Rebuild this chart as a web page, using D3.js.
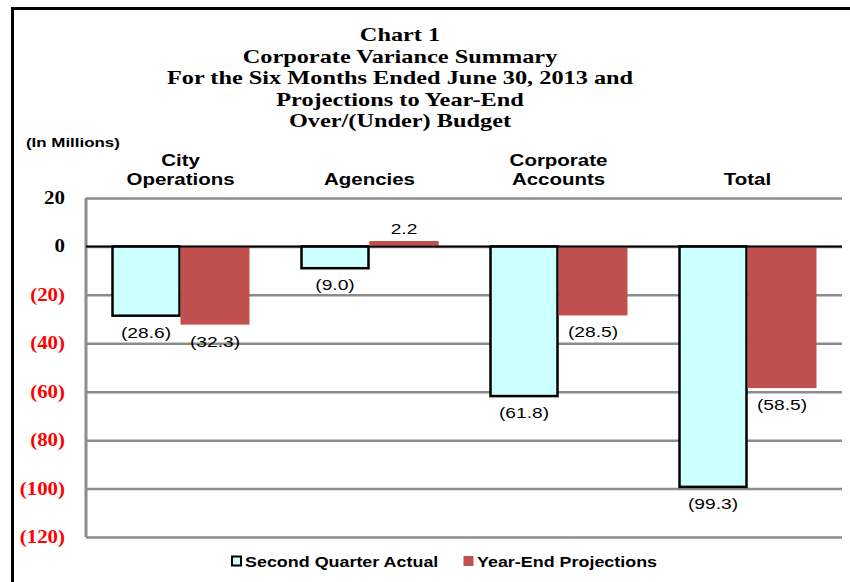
<!DOCTYPE html>
<html>
<head>
<meta charset="utf-8">
<script src="https://cdn.jsdelivr.net/npm/d3@7"></script>
<style>
  body { margin: 0; background: #fff; }
  svg { display: block; }
</style>
</head>
<body>
<div id="chart"></div>
<script>
// chart values
const categories = [["City", "Operations"], ["Agencies"], ["Corporate", "Accounts"], ["Total"]];
const seriesNames = ["Second Quarter Actual", "Year-End Projections"];
const secondQuarter = [-28.6, -9.0, -61.8, -99.3];
const yearEnd = [-32.3, 2.2, -28.5, -58.5];
const yTicks = [20, 0, -20, -40, -60, -80, -100, -120];
const titleLines = ["Chart 1", "Corporate Variance Summary", "For the Six Months Ended June 30, 2013 and",
  "Projections to Year-End", "Over/(Under) Budget"];

const W = 850, H = 582;
const margin = { top: 198, right: 8, bottom: 45, left: 86 };
const width = W - margin.left - margin.right;
const height = H - margin.top - margin.bottom;
const SANS = "Liberation Sans, Arial, sans-serif";
const SERIF = "Liberation Serif, Times New Roman, serif";
const stretch = 1.28; // the original text is drawn wide

const svg = d3.select("#chart").append("svg")
  .attr("width", W).attr("height", H);

// place text at (x,y) and widen it horizontally
const at = (x, y, sx) => `translate(${x},${y}) scale(${sx},1)`;

// outer frame
svg.append("line").attr("x1", 12).attr("x2", W).attr("y1", 8.5).attr("y2", 8.5)
  .attr("stroke", "#000").attr("stroke-width", 3);
svg.append("line").attr("x1", 12.5).attr("x2", 12.5).attr("y1", 7).attr("y2", H)
  .attr("stroke", "#000").attr("stroke-width", 3);

// title
svg.append("g").selectAll("text").data(titleLines).enter().append("text")
  .attr("text-anchor", "middle")
  .attr("font-family", SERIF)
  .attr("font-weight", "bold").attr("font-size", 19)
  .attr("transform", (d, i) => at(400, 41 + i * 21.5, stretch))
  .text(d => d);

svg.append("text")
  .attr("transform", at(26, 147, 1.3))
  .attr("font-family", SANS)
  .attr("font-weight", "bold").attr("font-size", 13)
  .text("(In Millions)");

const g = svg.append("g").attr("transform", `translate(${margin.left},${margin.top})`);

const x = d3.scaleBand().domain(d3.range(categories.length)).range([0, width]);
const x1 = d3.scaleBand().domain([0, 1]).range([0, 138]);
const y = d3.scaleLinear().domain([20, -120]).range([0, height]);

// gridlines
g.append("g")
  .attr("class", "grid")
  .call(d3.axisLeft(y).tickValues(yTicks).tickSize(-width).tickFormat(""))
  .call(s => s.select(".domain").remove())
  .call(s => s.selectAll("line").attr("stroke", "#8c8c8c").attr("stroke-width", 2.5));

g.append("line").attr("x1", 0).attr("x2", 0).attr("y1", 0).attr("y2", height)
  .attr("stroke", "#8c8c8c").attr("stroke-width", 3);

// tick labels
g.append("g").selectAll("text").data(yTicks).enter().append("text")
  .attr("transform", d => at(-21, y(d) + 6, 1.1))
  .attr("text-anchor", "end")
  .attr("font-family", SERIF)
  .attr("font-weight", "bold").attr("font-size", 19)
  .attr("fill", d => d < 0 ? "#ff0000" : "#000")
  .text(d => d < 0 ? `(${-d})` : d);

// category labels
const catLines = categories.flatMap((c, ci) => c.map((t, i) => ({ t, ci, row: c.length - 1 - i })));
g.append("g").selectAll("text").data(catLines).enter().append("text")
  .attr("transform", d => at(x(d.ci) + x.bandwidth() / 2, -13 - d.row * 19, stretch))
  .attr("text-anchor", "middle")
  .attr("font-family", SANS)
  .attr("font-weight", "bold").attr("font-size", 16)
  .text(d => d.t);

// bars
const rows = categories.map((c, i) => [
  { cat: i, s: 0, v: secondQuarter[i] },
  { cat: i, s: 1, v: yearEnd[i] }
]);
const bx = d => x(d.cat) + (x.bandwidth() - 138) / 2 + x1(d.s);

const barG = g.append("g").selectAll("g").data(rows).enter().append("g");
barG.selectAll("rect").data(d => d).enter().append("rect")
  .attr("x", d => bx(d) + (d.s === 0 ? 1 : 0))
  .attr("width", d => x1.bandwidth() - (d.s === 0 ? 2 : 0))
  .attr("y", d => y(Math.max(0, d.v)))
  .attr("height", d => Math.abs(y(d.v) - y(0)))
  .attr("fill", d => d.s === 0 ? "#ccffff" : "#c0504d")
  .attr("stroke", d => d.s === 0 ? "#000" : "none")
  .attr("stroke-width", 2.5);

// zero line
g.append("line").attr("x1", 0).attr("x2", width).attr("y1", y(0)).attr("y2", y(0))
  .attr("stroke", "#000").attr("stroke-width", 2);

// redraw positive red bars on top of zero line
g.selectAll(".pos").data(rows.flat().filter(d => d.v > 0)).enter().append("rect")
  .attr("x", bx).attr("width", x1.bandwidth())
  .attr("y", d => y(d.v)).attr("height", d => y(0) - y(d.v) - 1)
  .attr("fill", "#c0504d");

// value labels
g.append("g").selectAll("text").data(rows.flat()).enter().append("text")
  .attr("transform", d => at(bx(d) + x1.bandwidth() / 2, d.v < 0 ? y(d.v) + 22 : y(d.v) - 7, stretch))
  .attr("text-anchor", "middle")
  .attr("font-family", SANS)
  .attr("font-size", 15)
  .text(d => d.v < 0 ? `(${(-d.v).toFixed(1)})` : d.v.toFixed(1));

// legend
const legend = svg.append("g").attr("transform", "translate(231,556)");
const lg = legend.selectAll("g").data(seriesNames).enter().append("g")
  .attr("transform", (d, i) => `translate(${i * 232},0)`);
lg.append("rect").attr("x", (d, i) => i ? 0.5 : 1).attr("y", (d, i) => i ? 0 : 0.5)
  .attr("width", (d, i) => i ? 10 : 9).attr("height", (d, i) => i ? 10 : 9)
  .attr("fill", (d, i) => i ? "#c0504d" : "#ccffff")
  .attr("stroke", (d, i) => i ? "none" : "#000").attr("stroke-width", 2);
lg.append("text").attr("transform", at(14, 11, stretch))
  .attr("font-family", SANS)
  .attr("font-weight", "bold").attr("font-size", 14)
  .text(d => d);
</script>
</body>
</html>
